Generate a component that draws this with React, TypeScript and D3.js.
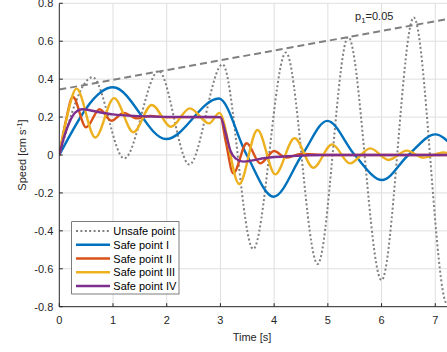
import { useEffect, useRef } from 'react';
import * as d3 from 'd3';

type Pt = [number, number];

// Time [s], speed [cm/s]
const unsafePoint: Pt[] = [
  [0, 0], [0.62, 0.41], [1.21, -0.018], [1.85, 0.443], [2.42, -0.05], [3.04, 0.478],
  [3.61, -0.496], [4.22, 0.54], [4.81, -0.575], [5.38, 0.622], [6.0, -0.66],
  [6.6, 0.725], [7.22, -0.785], [7.8, 0.8],
];
const safeI: Pt[] = [
  [0, 0], [1.0, 0.357], [1.99, 0.084], [2.97, 0.298], [3.49, 0.0], [3.99, -0.22],
  [4.52, 0.0], [4.99, 0.18], [5.5, 0.0], [6.01, -0.132], [6.5, 0.0], [7.0, 0.109],
  [7.5, 0.0], [8.0, -0.09],
];
const safeII: Pt[] = [
  [0, 0], [0.13, 0.19], [0.25, 0.307], [0.5, 0.146], [0.75, 0.241], [0.97, 0.181],
  [1.2, 0.222], [1.45, 0.193], [1.7, 0.206], [2.0, 0.199], [3.0, 0.2], [3.1, 0.07],
  [3.24, -0.097], [3.49, 0.062], [3.74, -0.044], [4.0, 0.021], [4.22, -0.014],
  [4.5, 0.005], [5.0, 0], [8.0, 0],
];
const safeIII: Pt[] = [
  [0, 0], [0.15, 0.21], [0.32, 0.35], [0.67, 0.092], [1.02, 0.3], [1.38, 0.12],
  [1.72, 0.264], [2.08, 0.149], [2.43, 0.246], [2.79, 0.167], [2.98, 0.222],
  [3.35, -0.153], [3.69, 0.132], [4.02, -0.102], [4.38, 0.088], [4.73, -0.067],
  [5.08, 0.056], [5.41, -0.044], [5.79, 0.035], [6.13, -0.026], [6.47, 0.023],
  [6.78, -0.014], [7.15, 0.014], [7.5, -0.01], [8.0, 0.006],
];
const safeIV: Pt[] = [
  [0, 0], [0.1, 0.105], [0.2, 0.18], [0.3, 0.225], [0.42, 0.241], [0.7, 0.228],
  [1.0, 0.214], [1.5, 0.205], [2.0, 0.201], [3.0, 0.2], [3.09, 0.123], [3.19, 0.02],
  [3.28, -0.018], [3.43, -0.035], [3.84, -0.016], [4.3, -0.006], [5.0, 0], [8.0, 0],
];
// p1 = 0.05 envelope
const envelope: Pt[] = [[0, 0.345], [8, 0.757]];

const xTicks = [0, 1, 2, 3, 4, 5, 6, 7];
const yTicks = [-0.8, -0.6, -0.4, -0.2, 0, 0.2, 0.4, 0.6, 0.8];
const yTickLabels = ['-0.8', '-0.6', '-0.4', '-0.2', '0', '0.2', '0.4', '0.6', '0.8'];

const seriesNames = ['Unsafe point', 'Safe point I', 'Safe point II', 'Safe point III', 'Safe point IV'];
const seriesData = [unsafePoint, safeI, safeII, safeIII, safeIV];
const seriesColors = ['#808080', '#0072BD', '#D95319', '#EDB120', '#7E2F8E'];

const FONT = '"Liberation Sans", Arial, Helvetica, sans-serif';
const AXIS = '#262626';

export default function App() {
  const svgRef = useRef<SVGSVGElement>(null);

  useEffect(() => {
    if (!svgRef.current) return;
    const svg = d3.select(svgRef.current);
    svg.selectAll('*').remove();

    const left = 59.3, top = 3.3, bottom = 306.7;
    const x = d3.scaleLinear().domain([0, 8]).range([left, left + 8 * 53.71]);
    const y = d3.scaleLinear().domain([-0.8, 0.8]).range([bottom, top]);

    svg.append('defs').append('clipPath').attr('id', 'plot-clip')
      .append('rect').attr('x', left).attr('y', top)
      .attr('width', x(8) - left).attr('height', bottom - top);

    // grid
    const grid = svg.append('g');
    grid.selectAll('line.gx').data(xTicks.filter(d => d > 0)).join('line')
      .attr('x1', d => x(d)).attr('x2', d => x(d))
      .attr('y1', top).attr('y2', bottom)
      .attr('stroke', '#dfdfdf').attr('stroke-width', 1);
    grid.selectAll('line.gy').data(yTicks.filter(d => d > -0.8)).join('line')
      .attr('x1', left).attr('x2', x(8))
      .attr('y1', d => y(d)).attr('y2', d => y(d))
      .attr('stroke', '#dfdfdf').attr('stroke-width', 1);

    const line = d3.line<Pt>().x(d => x(d[0])).y(d => y(d[1])).curve(d3.curveMonotoneX);
    const plot = svg.append('g').attr('clip-path', 'url(#plot-clip)');

    // envelope
    plot.append('path').datum(envelope)
      .attr('d', d3.line<Pt>().x(d => x(d[0])).y(d => y(d[1])))
      .attr('fill', 'none').attr('stroke', '#808080')
      .attr('stroke-width', 2).attr('stroke-dasharray', '7,4');

    seriesData.forEach((data, i) => {
      plot.append('path').datum(data)
        .attr('d', line)
        .attr('fill', 'none')
        .attr('stroke', seriesColors[i])
        .attr('stroke-width', i === 0 ? 2 : 2.4)
        .attr('stroke-dasharray', i === 0 ? '2,2.4' : null)
        .attr('stroke-linejoin', 'round');
    });

    // axes
    svg.append('line').attr('x1', left).attr('x2', x(8)).attr('y1', bottom).attr('y2', bottom)
      .attr('stroke', AXIS).attr('stroke-width', 1);
    svg.append('line').attr('x1', left).attr('x2', left).attr('y1', top).attr('y2', bottom)
      .attr('stroke', AXIS).attr('stroke-width', 1);

    svg.selectAll('line.xt').data(xTicks).join('line')
      .attr('x1', d => x(d)).attr('x2', d => x(d))
      .attr('y1', bottom).attr('y2', bottom - 3.5)
      .attr('stroke', AXIS);
    svg.selectAll('line.yt').data(yTicks).join('line')
      .attr('x1', left).attr('x2', left + 3.5)
      .attr('y1', d => y(d)).attr('y2', d => y(d))
      .attr('stroke', AXIS);

    svg.append('g').selectAll('text').data(xTicks).join('text')
      .attr('x', d => x(d)).attr('y', bottom + 17.5)
      .attr('text-anchor', 'middle').attr('font-size', 11).attr('fill', AXIS)
      .attr('font-family', FONT).text(d => String(d));
    svg.append('g').selectAll('text').data(yTicks).join('text')
      .attr('x', left - 6).attr('y', d => y(d) + 4)
      .attr('text-anchor', 'end').attr('font-size', 11).attr('fill', AXIS)
      .attr('font-family', FONT).text((_, i) => yTickLabels[i]);

    // axis labels
    svg.append('text').attr('x', 252).attr('y', 341)
      .attr('text-anchor', 'middle').attr('font-size', 11).attr('fill', AXIS)
      .attr('font-family', FONT).text('Time [s]');

    const yl = svg.append('text')
      .attr('transform', 'translate(26,155) rotate(-90)')
      .attr('text-anchor', 'middle').attr('font-size', 11).attr('fill', AXIS)
      .attr('font-family', FONT);
    yl.append('tspan').text('Speed [cm s');
    yl.append('tspan').attr('font-size', 8).attr('dy', -4).text('-1');
    yl.append('tspan').attr('dy', 4).text(']');

    // envelope annotation
    const ann = svg.append('text').attr('x', 355).attr('y', 20)
      .attr('font-size', 11).attr('fill', AXIS).attr('font-family', FONT);
    ann.append('tspan').text('p');
    ann.append('tspan').attr('font-size', 8).attr('dy', 3).text('1');
    ann.append('tspan').attr('dy', -3).text('=0.05');

    // legend
    const lg = svg.append('g');
    lg.append('rect').attr('x', 71.7).attr('y', 221.7).attr('width', 107.3).attr('height', 72.3)
      .attr('fill', '#fff').attr('stroke', AXIS).attr('stroke-width', 0.6);
    seriesNames.forEach((name, i) => {
      const cy = 231 + i * 13.75;
      lg.append('line').attr('x1', 76).attr('x2', 110).attr('y1', cy).attr('y2', cy)
        .attr('stroke', seriesColors[i])
        .attr('stroke-width', i === 0 ? 2 : 2.4)
        .attr('stroke-dasharray', i === 0 ? '2,2.4' : null);
      lg.append('text').attr('x', 113.3).attr('y', cy + 4)
        .attr('font-size', 11).attr('fill', '#000').attr('font-family', FONT).text(name);
    });
  }, []);

  return (
    <svg
      ref={svgRef}
      width={447}
      height={352}
      style={{ position: 'absolute', left: 0, top: 0, background: '#fff' }}
    />
  );
}
